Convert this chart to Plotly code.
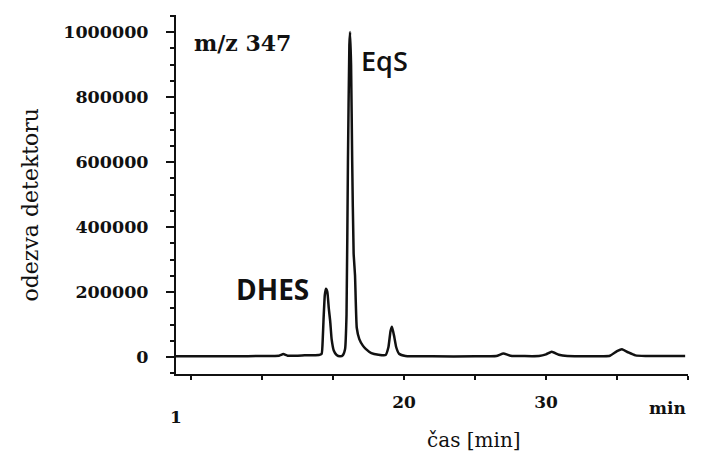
import plotly.graph_objects as go

# chromatogram data (time in min, detector response)
time_min = [3.94, 6.0, 8.0, 10.0, 11.2, 11.5, 11.8, 13.0, 14.0, 14.2, 14.28, 14.33, 14.42, 14.5,
            14.6, 14.7, 14.8, 14.9, 15.05, 15.25, 15.5, 15.7, 15.85, 15.95, 16.05, 16.15, 16.2,
            16.27, 16.35, 16.45, 16.55, 16.67, 16.85, 17.1, 17.3, 17.7, 18.2, 18.7, 18.9, 19.05,
            19.15, 19.3, 19.45, 19.65, 20.1, 22.0, 25.0, 26.5, 27.0, 27.5, 29.5, 30.0, 30.4,
            30.9, 31.5, 34.5, 35.0, 35.35, 35.8, 36.3, 37.0, 39.8]
response = [2000, 2000, 2000, 3000, 4000, 9000, 4000, 5000, 6000, 10000, 60000, 114000, 190000, 210000,
            200000, 150000, 110000, 55000, 20000, 6000, 2000, 6000, 25000, 130000, 600000, 960000, 1000000,
            900000, 600000, 320000, 250000, 90000, 55000, 35000, 25000, 12000, 7000, 6000, 30000, 80000,
            93000, 65000, 30000, 10000, 3000, 2000, 2000, 3000, 11000, 4000, 3000, 8000, 16000,
            7000, 3000, 4000, 18000, 24000, 14000, 5000, 3000, 3000]

y_major = [0, 200000, 400000, 600000, 800000, 1000000]
y_labels = ["0", "200000", "400000", "600000", "800000", "1000000"]
x_ticks = [5, 10, 15, 20, 25, 30, 35, 40]
x_labels = ["", "", "", "20", "", "30", "", ""]

peak_names = ["DHES", "EqS"]

serif = "DejaVu Serif"

fig = go.Figure()
fig.add_trace(go.Scatter(x=time_min, y=response, mode="lines",
                         line=dict(color="#111111", width=2.5, shape="spline", smoothing=0.4),
                         showlegend=False, hoverinfo="skip"))

fig.update_layout(
    width=714, height=452,
    margin=dict(l=176, r=26, t=15, b=78),
    paper_bgcolor="white", plot_bgcolor="white",
    font=dict(family=serif, color="#111111"),
    xaxis=dict(range=[3.94, 40], showgrid=False, zeroline=False, automargin=False,
               showline=True, linecolor="#111111", linewidth=2,
               ticks="outside", ticklen=4, tickwidth=2, tickcolor="#111111",
               tickvals=x_ticks, ticktext=x_labels, ticklabelstandoff=8,
               tickfont=dict(family=serif, size=17, weight="bold")),
    yaxis=dict(range=[-52308, 1052308], showgrid=False, zeroline=False, automargin=False,
               showline=True, linecolor="#111111", linewidth=2,
               ticks="outside", ticklen=8, tickwidth=2, tickcolor="#111111",
               tickvals=y_major, ticktext=y_labels, ticklabelstandoff=14,
               tickfont=dict(family=serif, size=17.5, weight="bold"),
               minor=dict(dtick=50000, ticks="outside", ticklen=4, tickwidth=1.5, tickcolor="#111111")),
)

# axis titles
fig.add_annotation(x=0, y=0.5, xref="paper", yref="paper", xshift=-146, yshift=-10,
                   text="odezva detektoru", textangle=-90, showarrow=False,
                   font=dict(family=serif, size=22), xanchor="center", yanchor="middle")
fig.add_annotation(x=24.9, y=0, xref="x", yref="paper", yshift=-66,
                   text="čas [min]", showarrow=False,
                   font=dict(family=serif, size=20), xanchor="center", yanchor="middle")

fig.add_annotation(x=3.94, y=-0.12, xref="x", yref="paper", text="1", showarrow=False,
                   font=dict(family=serif, size=17, weight="bold"), xanchor="center", yanchor="middle")
fig.add_annotation(x=40, y=-0.095, xref="x", yref="paper", text="min", showarrow=False,
                   font=dict(family=serif, size=17, weight="bold"), xanchor="right", yanchor="middle")
fig.add_annotation(x=5.1, y=966000, xref="x", yref="y", text="m/z 347", showarrow=False,
                   font=dict(family=serif, size=22, weight="bold"), xanchor="left", yanchor="middle")
fig.add_annotation(x=16.85, y=912000, xref="x", yref="y", text=peak_names[1], showarrow=False,
                   font=dict(family="Open Sans", size=27, weight=600), xanchor="left", yanchor="middle")
fig.add_annotation(x=13.45, y=210000, xref="x", yref="y", text=peak_names[0], showarrow=False,
                   font=dict(family="Open Sans", size=28, weight="bold"), xanchor="right", yanchor="middle")

fig.write_html("out.html", config={"displayModeBar": False},
               post_script="document.body.style.margin='0';document.body.style.overflow='hidden';")
